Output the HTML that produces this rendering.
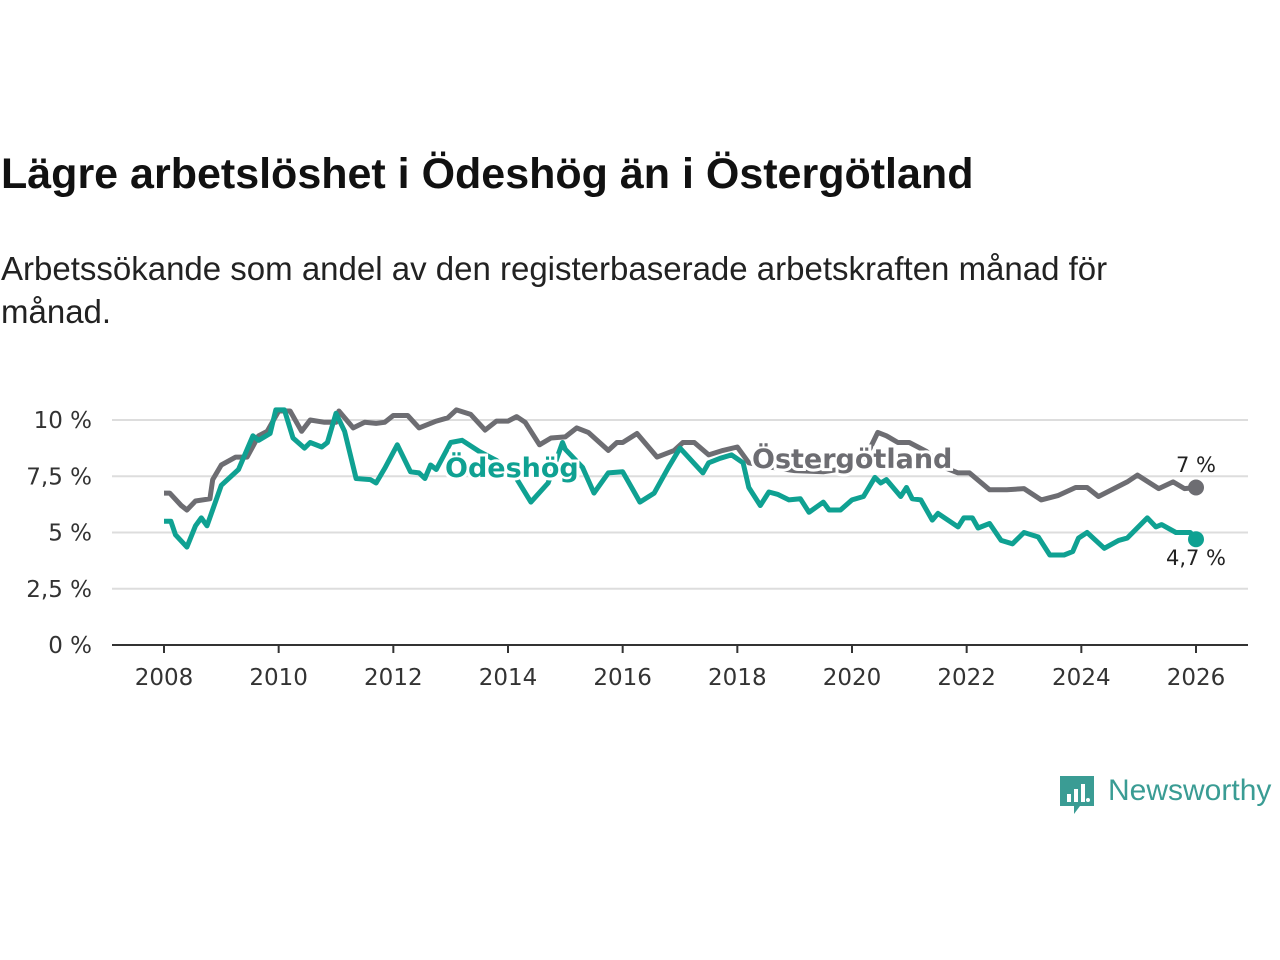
<!DOCTYPE html>
<html><head><meta charset="utf-8"><style>
body{margin:0;width:1280px;height:960px;background:#fff;font-family:"Liberation Sans",sans-serif;overflow:hidden;position:relative}
h1{position:absolute;left:1px;top:150px;margin:0;font-size:43px;font-weight:bold;color:#111;white-space:nowrap}
p{position:absolute;left:1px;top:247px;margin:0;font-size:33px;line-height:43px;color:#222;width:1180px}
svg{position:absolute;left:0;top:0}
</style></head><body>
<h1>Lägre arbetslöshet i Ödeshög än i Östergötland</h1>
<p>Arbetssökande som andel av den registerbaserade arbetskraften månad för månad.</p>
<svg id="c" width="1280" height="960"></svg>
<div style="position:absolute;left:1060px;top:774px;display:flex;align-items:center">
<svg width="34" height="42" style="position:static"><path d="M0 2h34v30H20l-6 8v-8H0z" fill="#3a9c94"/><rect x="7" y="20" width="4" height="8" fill="#fff"/><rect x="14" y="15" width="4" height="13" fill="#fff"/><rect x="21" y="10" width="4" height="18" fill="#fff"/><circle cx="28" cy="26" r="2" fill="#fff"/></svg>
<span style="font-size:30px;color:#3a9c94;margin-left:14px;margin-top:-8px">Newsworthy</span></div>
<script>
const yTicks=[0,2.5,5,7.5,10];
const yTickLabels=["0 %","2,5 %","5 %","7,5 %","10 %"];
const xTicks=[2008,2010,2012,2014,2016,2018,2020,2022,2024,2026];
const odeYears=[2008.0,2008.12,2008.2,2008.4,2008.55,2008.65,2008.75,2009.0,2009.3,2009.55,2009.65,2009.85,2009.95,2010.1,2010.25,2010.45,2010.55,2010.75,2010.85,2011.0,2011.15,2011.35,2011.6,2011.7,2011.85,2012.07,2012.3,2012.45,2012.55,2012.65,2012.75,2013.0,2013.2,2013.5,2013.8,2014.1,2014.4,2014.7,2014.95,2015.0,2015.3,2015.5,2015.75,2016.0,2016.3,2016.55,2016.8,2017.0,2017.4,2017.5,2017.7,2017.9,2018.1,2018.2,2018.4,2018.55,2018.7,2018.9,2019.1,2019.25,2019.5,2019.6,2019.8,2020.0,2020.2,2020.4,2020.5,2020.6,2020.85,2020.95,2021.05,2021.2,2021.4,2021.5,2021.85,2021.95,2022.1,2022.2,2022.4,2022.6,2022.8,2023.0,2023.25,2023.45,2023.7,2023.85,2023.95,2024.1,2024.4,2024.65,2024.8,2025.15,2025.3,2025.4,2025.65,2025.9,2026.0];
const odeValues=[5.5,5.5,4.9,4.35,5.3,5.65,5.3,7.1,7.8,9.3,9.1,9.4,10.45,10.45,9.2,8.75,9.0,8.8,9.0,10.3,9.5,7.4,7.35,7.2,7.85,8.9,7.7,7.65,7.4,8.0,7.8,9.0,9.1,8.6,8.2,7.6,6.35,7.2,9.0,8.7,7.9,6.75,7.65,7.7,6.35,6.75,7.9,8.75,7.65,8.1,8.3,8.45,8.1,7.0,6.2,6.8,6.7,6.45,6.5,5.9,6.35,6.0,6.0,6.45,6.6,7.45,7.2,7.35,6.6,7.0,6.5,6.45,5.55,5.85,5.25,5.65,5.65,5.2,5.4,4.65,4.5,5.0,4.8,4.0,4.0,4.15,4.75,5.0,4.3,4.65,4.75,5.65,5.25,5.35,5.0,5.0,4.7];
const ostYears=[2008.0,2008.1,2008.3,2008.4,2008.55,2008.8,2008.85,2009.0,2009.25,2009.45,2009.65,2009.8,2010.0,2010.2,2010.4,2010.55,2010.8,2011.0,2011.05,2011.3,2011.5,2011.7,2011.85,2012.0,2012.25,2012.45,2012.75,2012.95,2013.1,2013.35,2013.6,2013.8,2014.0,2014.15,2014.3,2014.55,2014.75,2015.0,2015.2,2015.4,2015.75,2015.9,2016.0,2016.25,2016.6,2016.9,2017.05,2017.25,2017.5,2017.75,2018.0,2018.2,2018.6,2019.0,2019.5,2020.0,2020.25,2020.45,2020.6,2020.8,2021.0,2021.3,2021.6,2021.85,2022.05,2022.4,2022.7,2023.0,2023.3,2023.6,2023.9,2024.1,2024.3,2024.8,2024.98,2025.35,2025.6,2025.8,2026.0];
const ostValues=[6.75,6.75,6.2,6.0,6.4,6.5,7.35,8.0,8.35,8.35,9.3,9.5,10.4,10.4,9.5,10.0,9.9,9.9,10.4,9.65,9.9,9.85,9.9,10.2,10.2,9.65,9.95,10.1,10.45,10.25,9.55,9.95,9.95,10.15,9.9,8.9,9.2,9.25,9.65,9.45,8.65,9.0,9.0,9.4,8.35,8.65,9.0,9.0,8.45,8.65,8.8,8.1,7.9,7.75,7.7,7.9,8.4,9.45,9.3,9.0,9.0,8.6,7.9,7.65,7.65,6.9,6.9,6.95,6.45,6.65,7.0,7.0,6.6,7.25,7.55,6.95,7.25,6.95,7.0];
const NS="http://www.w3.org/2000/svg",svg=document.getElementById('c');
const X=t=>164+(t-2008)*(1032/18), Y=v=>645-v*22.5;
function mk(tag,a,txt){const e=document.createElementNS(NS,tag);for(const k in a)e.setAttribute(k,a[k]);if(txt!=null)e.textContent=txt;svg.appendChild(e);return e;}
yTicks.forEach((v,i)=>{
 if(v>0){const g=mk('line',{x1:112,x2:1248,y1:Y(v),y2:Y(v),stroke:'#ddd','stroke-width':2});
 
 }
 const t=mk('text',{x:92,y:Y(v)+8,'text-anchor':'end','font-size':23,fill:'#333','font-family':'DejaVu Sans, sans-serif'},yTickLabels[i]);
 
 
});
const ax=mk('line',{x1:112,x2:1248,y1:645,y2:645,stroke:'#333','stroke-width':2});


xTicks.forEach(y=>{
 const l=mk('line',{x1:X(y),x2:X(y),y1:645,y2:653,stroke:'#333','stroke-width':2});
 
 
 const t=mk('text',{x:X(y),y:685,'text-anchor':'middle','font-size':23,fill:'#333','font-family':'DejaVu Sans, sans-serif'},String(y));
 
 
});
function line(ys,vs,col,name){
 const d=ys.map((t,i)=>(i?'L':'M')+X(t).toFixed(1)+' '+Y(vs[i]).toFixed(1)).join('');
 const p=mk('path',{d:d,fill:'none',stroke:col,'stroke-width':5,'stroke-linejoin':'round'});
 
 
 const c=mk('circle',{cx:X(ys[ys.length-1]),cy:Y(vs[vs.length-1]),r:8,fill:col});
 
 
}
line(ostYears,ostValues,'#6d6d72','ostergotland-line');
line(odeYears,odeValues,'#0fa192','odeshog-line');
function lab(x,y,txt,col,name,size,bold,anchor){
 const t=mk('text',{x:x,y:y,'font-size':size,'font-weight':bold?'bold':'normal',fill:col,stroke:'#fff','stroke-width':bold?6:4,'paint-order':'stroke','text-anchor':anchor||'start','font-family':'DejaVu Sans, sans-serif'},txt);
 
 
}
lab(445,477,'Ödeshög','#0fa192','odeshog-label',27,true);
lab(752,468,'Östergötland','#6d6d72','ostergotland-label',27,true);
lab(1196,472,'7 %','#222','ostergotland-end-value',21,false,'middle');
lab(1196,565,'4,7 %','#222','odeshog-end-value',21,false,'middle');
</script>
</body></html>
